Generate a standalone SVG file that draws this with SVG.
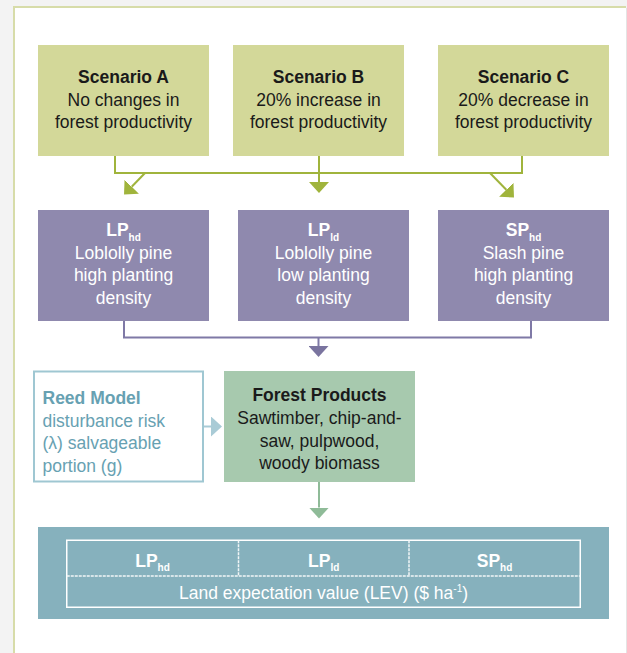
<svg xmlns="http://www.w3.org/2000/svg" width="627" height="653" viewBox="0 0 627 653">
  <style>
    text { font-family: "Liberation Sans", Arial, sans-serif; font-size: 17.5px; }
    .b { font-weight: bold; }
    .dark { fill: #1a1a1a; }
    .light { fill: #ffffff; }
    .reed { fill: #67a1b2; }
    .sub { font-size: 10px; font-weight: bold; }
    .scen { fill: #d3d899; }
    .pine { fill: #8f89ae; }
    .prod { fill: #a7c9ae; }
    .c-green { stroke: #a0b43c; stroke-width: 2; fill: none; }
    .c-purple { stroke: #7f79a6; stroke-width: 2; fill: none; }
    .c-blue { stroke: #a9cbd6; stroke-width: 2; fill: none; }
    .c-sage { stroke: #8fbb98; stroke-width: 2; fill: none; }
    .grid { stroke: #ffffff; stroke-width: 1.5; fill: none; }
    .grid-in { stroke: #f2f6f7; stroke-width: 1.5; stroke-dasharray: 3 1; fill: none; }
  </style>
  <defs>
    <marker id="ah-green" markerUnits="userSpaceOnUse" markerWidth="11" markerHeight="20" refX="0" refY="10" orient="auto">
      <path d="M0,0 L11,10 L0,20 z" fill="#a0b43c"/>
    </marker>
    <marker id="ah-purple" markerUnits="userSpaceOnUse" markerWidth="11" markerHeight="20" refX="0" refY="10" orient="auto">
      <path d="M0,0 L11,10 L0,20 z" fill="#7a749f"/>
    </marker>
    <marker id="ah-blue" markerUnits="userSpaceOnUse" markerWidth="11" markerHeight="20" refX="0" refY="10" orient="auto">
      <path d="M0,0 L11,10 L0,20 z" fill="#a9cbd6"/>
    </marker>
    <marker id="ah-sage" markerUnits="userSpaceOnUse" markerWidth="11" markerHeight="20" refX="0" refY="10" orient="auto">
      <path d="M0,0 L11,10 L0,20 z" fill="#8fbb98"/>
    </marker>
  </defs>

  <!-- page and frame -->
  <rect x="0" y="0" width="627" height="653" fill="#f3f3f3"/>
  <rect x="14" y="7" width="612" height="646" fill="#ffffff"/>
  <line x1="13" y1="7" x2="626" y2="7" stroke="#d7dca9" stroke-width="2"/>
  <line x1="14" y1="7" x2="14" y2="653" stroke="#d7dca9" stroke-width="2"/>
  <line x1="626.5" y1="8" x2="626.5" y2="653" stroke="#e4e4e4" stroke-width="1"/>

  <!-- scenarios -->
  <g id="scenario-a">
    <rect class="scen" x="38" y="45" width="171" height="111"/>
    <text class="b dark" x="123.5" y="83" text-anchor="middle">Scenario A</text>
    <text class="dark" x="123.5" y="105.5" text-anchor="middle">No changes in</text>
    <text class="dark" x="123.5" y="128" text-anchor="middle">forest productivity</text>
  </g>
  <g id="scenario-b">
    <rect class="scen" x="233" y="45" width="171" height="111"/>
    <text class="b dark" x="318.5" y="83" text-anchor="middle">Scenario B</text>
    <text class="dark" x="318.5" y="105.5" text-anchor="middle">20% increase in</text>
    <text class="dark" x="318.5" y="128" text-anchor="middle">forest productivity</text>
  </g>
  <g id="scenario-c">
    <rect class="scen" x="438" y="45" width="171" height="111"/>
    <text class="b dark" x="523.5" y="83" text-anchor="middle">Scenario C</text>
    <text class="dark" x="523.5" y="105.5" text-anchor="middle">20% decrease in</text>
    <text class="dark" x="523.5" y="128" text-anchor="middle">forest productivity</text>
  </g>

  <!-- pine types -->
  <g id="lp-hd">
    <rect class="pine" x="38" y="210" width="171" height="111"/>
    <text class="b light" x="123.5" y="236" text-anchor="middle">LP<tspan class="sub" dy="5">hd</tspan></text>
    <text class="light" x="123.5" y="258.5" text-anchor="middle">Loblolly pine</text>
    <text class="light" x="123.5" y="281" text-anchor="middle">high planting</text>
    <text class="light" x="123.5" y="303.5" text-anchor="middle">density</text>
  </g>
  <g id="lp-ld">
    <rect class="pine" x="238" y="210" width="171" height="111"/>
    <text class="b light" x="323.5" y="236" text-anchor="middle">LP<tspan class="sub" dy="5">ld</tspan></text>
    <text class="light" x="323.5" y="258.5" text-anchor="middle">Loblolly pine</text>
    <text class="light" x="323.5" y="281" text-anchor="middle">low planting</text>
    <text class="light" x="323.5" y="303.5" text-anchor="middle">density</text>
  </g>
  <g id="sp-hd">
    <rect class="pine" x="438" y="210" width="171" height="111"/>
    <text class="b light" x="523.5" y="236" text-anchor="middle">SP<tspan class="sub" dy="5">hd</tspan></text>
    <text class="light" x="523.5" y="258.5" text-anchor="middle">Slash pine</text>
    <text class="light" x="523.5" y="281" text-anchor="middle">high planting</text>
    <text class="light" x="523.5" y="303.5" text-anchor="middle">density</text>
  </g>

  <!-- Reed model inputs -->
  <g id="reed-model">
    <rect x="34" y="371.5" width="169" height="110" fill="#ffffff" stroke="#9fc7d2" stroke-width="2"/>
    <text class="b reed" x="42.5" y="404">Reed Model</text>
    <text class="reed" x="42.5" y="426.5">disturbance risk</text>
    <text class="reed" x="42.5" y="449">(λ) salvageable</text>
    <text class="reed" x="42.5" y="471.5">portion (g)</text>
  </g>

  <!-- forest products -->
  <g id="forest-products">
    <rect class="prod" x="224" y="371" width="191" height="111"/>
    <text class="b dark" x="319.5" y="401" text-anchor="middle">Forest Products</text>
    <text class="dark" x="319.5" y="424" text-anchor="middle">Sawtimber, chip-and-</text>
    <text class="dark" x="319.5" y="446.5" text-anchor="middle">saw, pulpwood,</text>
    <text class="dark" x="319.5" y="469" text-anchor="middle">woody biomass</text>
  </g>

  <!-- land expectation value table -->
  <g id="lev">
    <rect x="38" y="527" width="571" height="92" fill="#86b1bd"/>
    <rect class="grid" x="66.75" y="540.25" width="513.5" height="67"/>
    <line class="grid-in" x1="66.75" y1="576" x2="580.25" y2="576"/>
    <line class="grid-in" x1="238.5" y1="540.25" x2="238.5" y2="576"/>
    <line class="grid-in" x1="409" y1="540.25" x2="409" y2="576"/>
    <text class="b light" x="152.5" y="566.5" text-anchor="middle">LP<tspan class="sub" dy="4">hd</tspan></text>
    <text class="b light" x="323.7" y="566.5" text-anchor="middle">LP<tspan class="sub" dy="4">ld</tspan></text>
    <text class="b light" x="494.5" y="566.5" text-anchor="middle">SP<tspan class="sub" dy="4">hd</tspan></text>
    <text class="light" x="323.5" y="599" text-anchor="middle">Land expectation value (LEV) ($ ha<tspan font-size="10" dy="-7">-1</tspan><tspan dy="7">)</tspan></text>
  </g>

  <!-- connectors -->
  <g id="connectors">
    <path class="c-green" d="M115,156 V173 H522 V156"/>
    <path class="c-green" d="M319,156 V182" marker-end="url(#ah-green)"/>
    <path class="c-green" d="M145,173 L131.7,186.7" marker-end="url(#ah-green)"/>
    <path class="c-green" d="M490,173 L506.3,189.7" marker-end="url(#ah-green)"/>

    <path class="c-purple" d="M124,321 V337.5 H531 V321"/>
    <path class="c-purple" d="M318.5,337.5 V346" marker-end="url(#ah-purple)"/>

    <path class="c-blue" d="M204,426.5 H211" marker-end="url(#ah-blue)"/>

    <path class="c-sage" d="M319,482 V507.5" marker-end="url(#ah-sage)"/>
  </g>
</svg>
